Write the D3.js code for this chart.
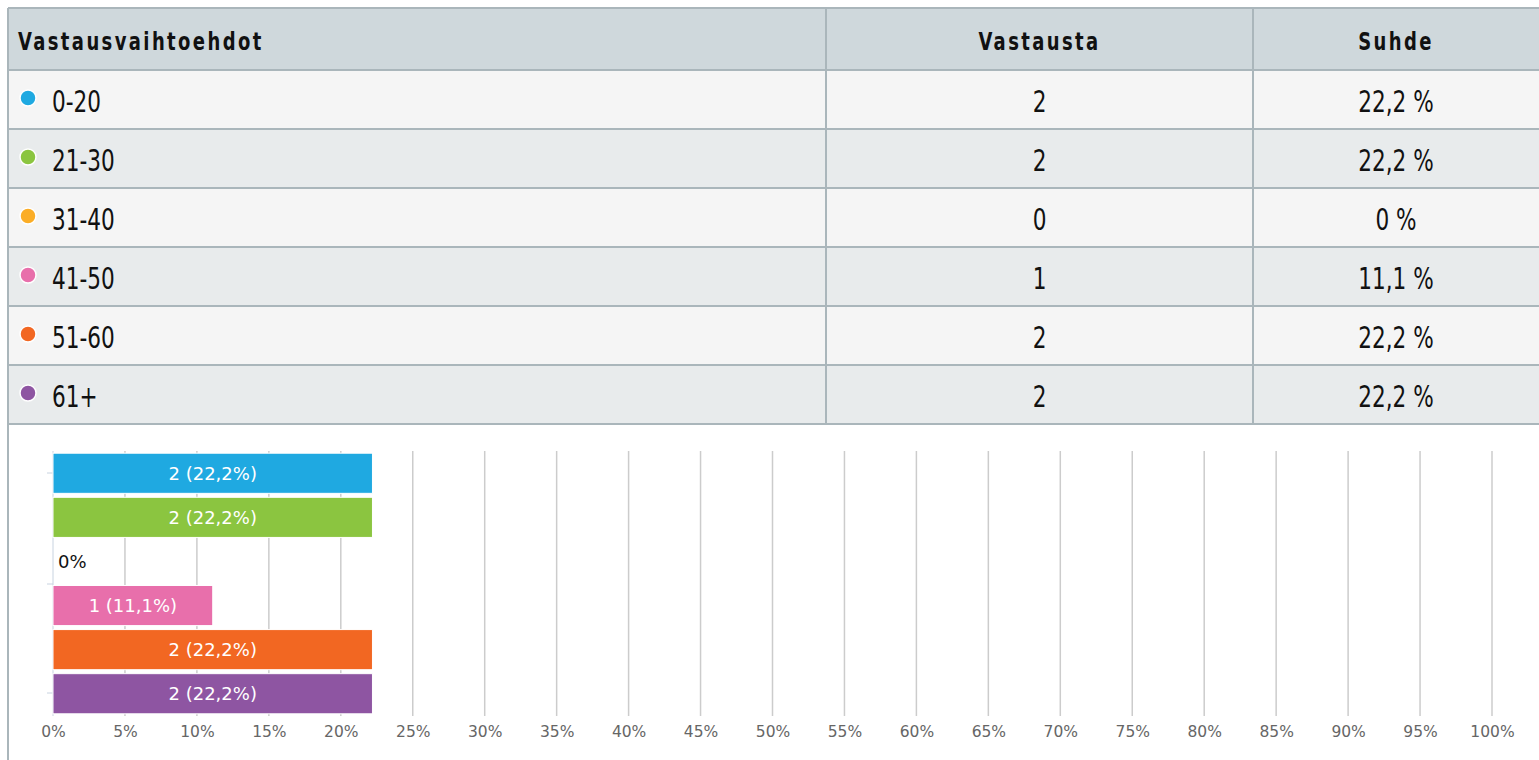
<!DOCTYPE html>
<html>
<head>
<meta charset="utf-8">
<script src="https://cdn.jsdelivr.net/npm/d3@7"></script>
<style>
  body { margin: 0; background: #fff; }
  svg { display: block; }
</style>
</head>
<body>
<svg id="chart" width="1539" height="760"></svg>
<script>
const categories = ["0-20", "21-30", "31-40", "41-50", "51-60", "61+"];
const counts = [2, 2, 0, 1, 2, 2];
const shares = [22.2, 22.2, 0, 11.1, 22.2, 22.2];
const colors = ["#1fa9e1", "#8bc540", "#fbad26", "#e86fab", "#f26722", "#8e55a2"];
const headers = ["Vastausvaihtoehdot", "Vastausta", "Suhde"];
const xTicks = d3.range(0, 101, 5);

const svg = d3.select("#chart");
const tableFont = "'DejaVu Sans Condensed', 'DejaVu Sans', sans-serif";
const chartFont = "'DejaVu Sans', sans-serif";
const fmt = v => String(v).replace(".", ",");

// ---- table ----
const colX = [8, 826, 1253, 1545];
const headerTop = 8, headerH = 62, rowH = 59;
const rowY = d3.scaleBand().domain(categories)
    .range([headerTop + headerH, headerTop + headerH + rowH * categories.length]);

const table = svg.append("g");

table.append("rect")
    .attr("x", colX[0]).attr("y", headerTop)
    .attr("width", colX[3] - colX[0]).attr("height", headerH)
    .attr("fill", "#cfd8dc");

table.selectAll("rect.row")
    .data(categories)
    .join("rect")
    .attr("class", "row")
    .attr("x", colX[0]).attr("y", d => rowY(d))
    .attr("width", colX[3] - colX[0]).attr("height", rowY.bandwidth())
    .attr("fill", (d, i) => i % 2 === 0 ? "#f5f5f5" : "#e8ebec");

// horizontal borders
const hLines = [headerTop, headerTop + headerH, ...categories.map(c => rowY(c) + rowY.bandwidth())];
table.selectAll("line.h")
    .data(hLines)
    .join("line")
    .attr("x1", colX[0]).attr("x2", colX[3])
    .attr("y1", d => d).attr("y2", d => d)
    .attr("stroke", "#aab6bb").attr("stroke-width", 2);

// vertical borders
table.selectAll("line.v")
    .data(colX.slice(0, 3))
    .join("line")
    .attr("x1", d => d).attr("x2", d => d)
    .attr("y1", headerTop).attr("y2", (d, i) => i === 0 ? 760 : hLines[hLines.length - 1])
    .attr("stroke", "#aab6bb").attr("stroke-width", 2);

// narrow text: condensed font squeezed a bit more horizontally
const squeeze = 0.8;

table.selectAll("text.head")
    .data(headers)
    .join("text")
    .attr("transform", (d, i) => {
        const tx = i === 0 ? 18 : (colX[i] + colX[i + 1]) / 2 - (i === 2 ? 3 : 0);
        return `translate(${tx},${headerTop + headerH / 2 + 11}) scale(${squeeze},1)`;
    })
    .attr("text-anchor", (d, i) => i === 0 ? "start" : "middle")
    .style("font-family", tableFont)
    .style("font-size", "25px")
    .style("font-weight", "bold")
    .style("letter-spacing", "3px")
    .attr("fill", "#111")
    .text(d => d);

const rows = table.selectAll("g.rowtext")
    .data(categories)
    .join("g")
    .attr("transform", d => `translate(0,${rowY(d) + rowY.bandwidth() / 2})`);

rows.append("circle")
    .attr("cx", 28).attr("cy", -1.5).attr("r", 8)
    .attr("fill", (d, i) => colors[i])
    .attr("stroke", "#fff").attr("stroke-width", 1.5);

const cellText = (sel, x, anchor, fn) => sel.append("text")
    .attr("transform", `translate(${x},12) scale(${squeeze},1)`)
    .attr("text-anchor", anchor)
    .style("font-family", tableFont).style("font-size", "30px")
    .attr("fill", "#111")
    .text(fn);

cellText(rows, 52, "start", d => d);
cellText(rows, (colX[1] + colX[2]) / 2, "middle", (d, i) => counts[i]);
cellText(rows, 1396, "middle", (d, i) => fmt(shares[i]) + " %");

// ---- bar chart ----
const plot = { left: 53, right: 1492, top: 451, bottom: 716 };
const x = d3.scaleLinear().domain([0, 100]).range([plot.left, plot.right]);
const y = d3.scaleBand().domain(categories)
    .range([plot.top, plot.bottom]).paddingInner(0.09).paddingOuter(0.05);

const chart = svg.append("g");

chart.selectAll("line.grid")
    .data(xTicks.slice(1))
    .join("line")
    .attr("class", "grid")
    .attr("x1", d => x(d)).attr("x2", d => x(d))
    .attr("y1", plot.top).attr("y2", plot.bottom)
    .attr("stroke", "#cccccc").attr("stroke-width", 1.5);

// y axis line + ticks
chart.append("line")
    .attr("x1", plot.left).attr("x2", plot.left)
    .attr("y1", plot.top).attr("y2", plot.bottom)
    .attr("stroke", "#c8d3e0").attr("stroke-width", 1);
chart.selectAll("line.ytick")
    .data([473, 584, 693])
    .join("line")
    .attr("x1", plot.left - 6).attr("x2", plot.left)
    .attr("y1", d => d).attr("y2", d => d)
    .attr("stroke", "#c8d3e0");

chart.selectAll("rect.bar")
    .data(categories)
    .join("rect")
    .attr("class", "bar")
    .attr("x", x(0)).attr("y", d => y(d))
    .attr("width", (d, i) => x(shares[i]) - x(0))
    .attr("height", y.bandwidth())
    .attr("fill", (d, i) => colors[i])
    .attr("stroke", "#fff").attr("stroke-width", 1)
    .attr("display", (d, i) => shares[i] > 0 ? null : "none");

chart.selectAll("text.barlabel")
    .data(categories)
    .join("text")
    .attr("class", "barlabel")
    .attr("x", (d, i) => shares[i] > 0 ? (x(0) + x(shares[i])) / 2 : x(0) + 5)
    .attr("y", d => y(d) + y.bandwidth() / 2 + 6.5)
    .attr("text-anchor", (d, i) => shares[i] > 0 ? "middle" : "start")
    .style("font-family", chartFont).style("font-size", "18px")
    .attr("fill", (d, i) => shares[i] > 0 ? "#fff" : "#111")
    .text((d, i) => shares[i] > 0 ? `${counts[i]} (${fmt(shares[i])}%)` : "0%");

const xAxis = d3.axisBottom(x).tickValues(xTicks).tickSize(0).tickPadding(10).tickFormat(d => d + "%");
chart.append("g")
    .attr("transform", `translate(0,${plot.bottom})`)
    .call(xAxis)
    .call(g => g.select(".domain").remove())
    .call(g => g.selectAll("text")
        .style("font-family", chartFont).style("font-size", "15.5px").attr("fill", "#666"));
</script>
</body>
</html>
